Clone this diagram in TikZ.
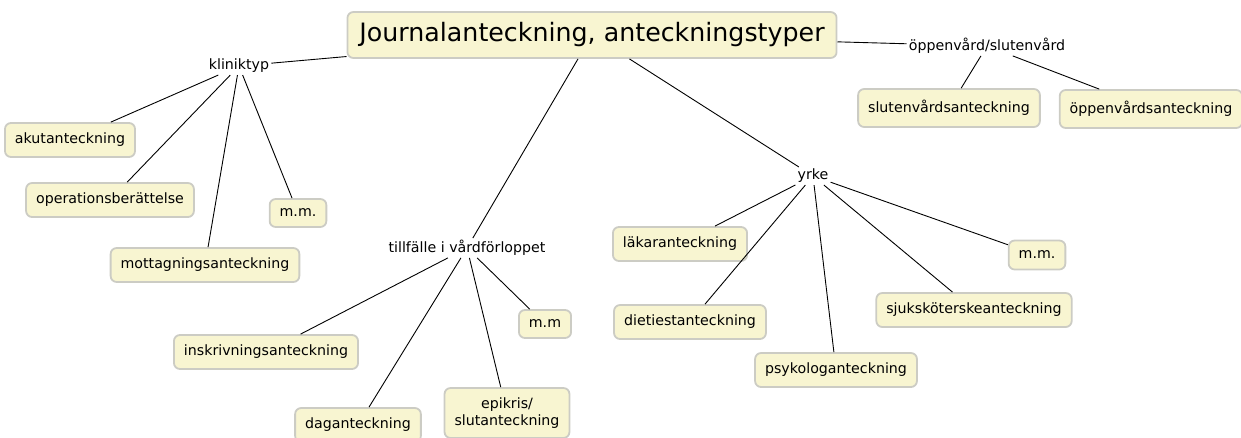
\documentclass[tikz,border=0pt]{standalone}
\usepackage{fontspec}
\setmainfont{DejaVu Sans}
\definecolor{boxfill}{RGB}{248,245,209}
\definecolor{boxline}{RGB}{204,204,196}
\tikzset{
  typ/.style={draw=boxline, line width=1.8pt, fill=boxfill, rounded corners=6pt,
    inner xsep=10pt, minimum height=34pt, align=center,
    font=\fontsize{14.2}{16.5}\selectfont},
  grupp/.style={inner sep=2pt, font=\fontsize{14.2}{16.5}\selectfont},
  kant/.style={line width=0.9pt}
}
\begin{document}
\begin{tikzpicture}[x=1pt,y=-1pt]
                    \useasboundingbox (0,0) rectangle (1241,437);
                    \clip (0,0) rectangle (1241,437);
                    % Rubrik
                    \node[typ, minimum height=46pt, inner xsep=12pt,
                          font=\fontsize{25.3}{29}\selectfont] (titel) at (592,35)
                       {Journalanteckning, anteckningstyper};
                    % Grupper
                    \node[grupp] (klinik)  at (239,66)  {kliniktyp};
                    \node[grupp] (vard)    at (987,46)  {öppenvård/slutenvård};
                    \node[grupp] (tillf)   at (467,248) {tillfälle i vårdförloppet};
                    \node[grupp] (yrke)    at (813,176) {yrke};
                    % Kliniktyp
                    \node[typ] (akut)      at (70,140)  {akutanteckning};
                    \node[typ] (oper)      at (110,200) {operationsberättelse};
                    \node[typ] (mott)      at (205,265) {mottagningsanteckning};
                    \node[typ, minimum height=28pt] (mmA) at (298,213) {m.m.};
                    % Öppenvård/slutenvård
                    \node[typ, minimum height=38pt] (sluten) at (949,108) {slutenvårdsanteckning};
                    \node[typ, minimum height=38pt] (oppen)  at (1151,109) {öppenvårdsanteckning};
                    % Tillfälle
                    \node[typ] (inskr)     at (266,352) {inskrivningsanteckning};
                    \node[typ] (dag)       at (358,425) {daganteckning};
                    \node[typ, minimum height=50pt] (epik) at (507,413) {epikris/\\slutanteckning};
                    \node[typ, minimum height=28pt] (mmB) at (545,324) {m.m};
                    % Yrke
                    \node[typ] (lakar)     at (680,244) {läkaranteckning};
                    \node[typ] (diet)      at (690,322) {dietiestanteckning};
                    \node[typ] (psyk)      at (836,370) {psykologanteckning};
                    \node[typ] (sjuk)      at (974,310) {sjuksköterskeanteckning};
                    \node[typ, minimum height=29pt] (mmC) at (1037,255) {m.m.};
                    % Kanter
                    \draw[kant] (titel) -- (klinik);
                    \draw[kant] (titel) -- (vard);
                    \draw[kant] (titel) -- (tillf);
                    \draw[kant] (titel) -- (yrke);
                    \foreach \b in {akut,oper,mott,mmA}
                      \draw[kant] (klinik) -- (\b);
                    \foreach \b in {sluten,oppen}
                      \draw[kant] (vard) -- (\b);
                    \foreach \b in {inskr,dag,epik,mmB}
                      \draw[kant] (tillf) -- (\b);
                    \foreach \b in {lakar,diet,psyk,sjuk,mmC}
                      \draw[kant] (yrke) -- (\b);
                \end{tikzpicture}
\end{document}
